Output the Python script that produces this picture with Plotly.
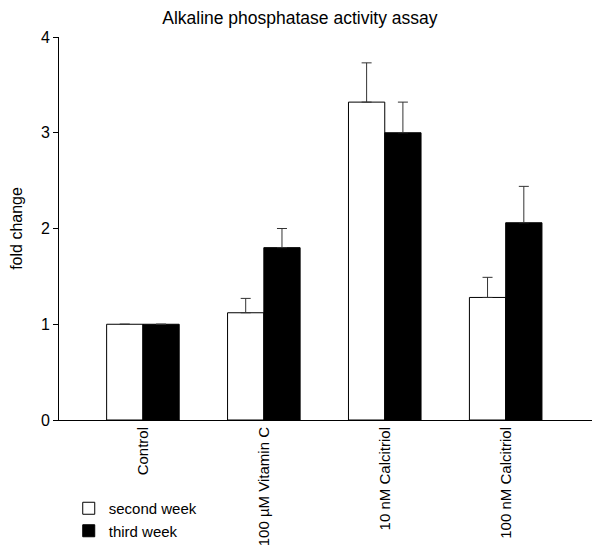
import plotly.graph_objects as go

categories = ["Control", "100 \u00b5M Vitamin C", "10 nM Calcitriol", "100 nM Calcitriol"]
second_week = [1.0, 1.12, 3.32, 1.28]
second_week_err = [0.0, 0.15, 0.41, 0.21]
third_week = [1.0, 1.80, 3.00, 2.06]
third_week_err = [0.0, 0.20, 0.32, 0.38]
y_ticks = [0, 1, 2, 3, 4]

font_family = "Liberation Sans, Arial, sans-serif"

fig = go.Figure()
fig.add_trace(go.Bar(
    x=categories, y=second_week, name="second week",
    marker=dict(color="white", line=dict(color="black", width=1)),
    error_y=dict(type="data", array=second_week_err, arrayminus=[0]*4, symmetric=False,
                 color="#333333", thickness=1, width=5),
))
fig.add_trace(go.Bar(
    x=categories, y=third_week, name="third week",
    marker=dict(color="black", line=dict(color="black", width=1)),
    error_y=dict(type="data", array=third_week_err, arrayminus=[0]*4, symmetric=False,
                 color="#333333", thickness=1, width=5),
))

fig.update_layout(
    width=592, height=546,
    paper_bgcolor="white", plot_bgcolor="white",
    margin=dict(l=51, r=0, t=29, b=134, autoexpand=False),
    barmode="group", bargap=0.4, bargroupgap=0,
    font=dict(family=font_family, color="black", size=15),
    title=dict(text="Alkaline phosphatase activity assay", x=0.493, xanchor="center",
               xref="container", y=0.982, yanchor="middle", font=dict(size=17.5)),
    showlegend=True,
    legend=dict(x=0.018, y=-0.188, xanchor="left", yanchor="top", bgcolor="rgba(0,0,0,0)",
                font=dict(size=15), itemwidth=30, tracegroupgap=0),
    xaxis=dict(
        range=[-0.694, 3.78], showline=True, linecolor="black", linewidth=1,
        ticks="", tickangle=-90, tickfont=dict(size=15), showgrid=False, zeroline=False,
    ),
    yaxis=dict(
        range=[0, 4], tickvals=y_ticks, showline=True, linecolor="black", linewidth=1,
        ticks="outside", ticklen=5, tickcolor="black", showgrid=False, zeroline=False,
        title=dict(text="fold change", font=dict(size=16), standoff=16),
        tickfont=dict(size=16),
    ),
)

fig.write_html("out.html")
